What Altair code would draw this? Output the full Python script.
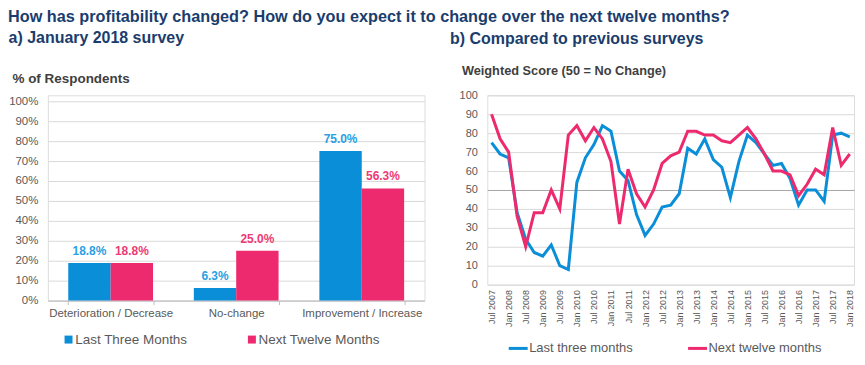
import altair as alt
import pandas as pd

FONT = "Liberation Sans"
NAVY = "#1A3D6D"
BLUE = "#0A8ED8"
PINK = "#EE2A6E"
LBLUE = "#2AA0E2"
LPINK = "#EE3A75"
GRAY_TXT = "#595959"

main_title = "How has profitability changed? How do you expect it to change over the next twelve months?"
left_title = "a) January 2018 survey"
right_title = "b) Compared to previous surveys"

# ---- panel a) data ----
categories = ["Deterioration / Decrease", "No-change", "Improvement / Increase"]
bar_series = ["Last Three Months", "Next Twelve Months"]
last_three = [18.8, 6.3, 75.0]
next_twelve = [18.8, 25.0, 56.3]

# ---- panel b) data ----
quarters = ["Jul 2007", "Oct 2007", "Jan 2008", "Apr 2008", "Jul 2008", "Oct 2008",
            "Jan 2009", "Apr 2009", "Jul 2009", "Oct 2009", "Jan 2010", "Apr 2010",
            "Jul 2010", "Oct 2010", "Jan 2011", "Apr 2011", "Jul 2011", "Oct 2011",
            "Jan 2012", "Apr 2012", "Jul 2012", "Oct 2012", "Jan 2013", "Apr 2013",
            "Jul 2013", "Oct 2013", "Jan 2014", "Apr 2014", "Jul 2014", "Oct 2014",
            "Jan 2015", "Apr 2015", "Jul 2015", "Oct 2015", "Jan 2016", "Apr 2016",
            "Jul 2016", "Oct 2016", "Jan 2017", "Apr 2017", "Jul 2017", "Oct 2017",
            "Jan 2018"]
tick_labels = ["Jul 2007", "Jan 2008", "Jul 2008", "Jan 2009", "Jul 2009", "Jan 2010",
               "Jul 2010", "Jan 2011", "Jul 2011", "Jan 2012", "Jul 2012", "Jan 2013",
               "Jul 2013", "Jan 2014", "Jul 2014", "Jan 2015", "Jul 2015", "Jan 2016",
               "Jul 2016", "Jan 2017", "Jul 2017", "Jan 2018"]
line_series = ["Last three months", "Next twelve months"]
last_three_months = [75, 69, 67, 38, 24, 17, 15, 21, 10, 8, 54, 67, 74, 84, 81, 60, 55, 37,
                     26, 32, 41, 42, 48, 72, 69, 77, 66, 62, 46, 65, 79, 75, 69, 63, 64, 56,
                     42, 50, 50, 44, 79, 80, 78]
next_twelve_months = [90, 77, 70, 36, 20, 38, 38, 50, 40, 79, 84, 76, 83, 77, 65, 32, 61, 48,
                      41, 50, 64, 68, 70, 81, 81, 79, 79, 76, 75, 79, 83, 77, 69, 60, 60, 58,
                      47, 53, 61, 58, 83, 63, 69]

bar_df = pd.DataFrame({
    "category": categories * 2,
    "series": [bar_series[0]] * len(categories) + [bar_series[1]] * len(categories),
    "value": last_three + next_twelve,
})

line_df = pd.DataFrame({
    "quarter": quarters * 2,
    "series": [line_series[0]] * len(quarters) + [line_series[1]] * len(quarters),
    "score": last_three_months + next_twelve_months,
})

sub_title_style = dict(anchor="start", font=FONT, fontSize=16, fontWeight="bold", color=NAVY)

# ---------------- left panel ----------------
x_bar = alt.X("category:N", sort=categories,
              scale=alt.Scale(paddingInner=0.325, paddingOuter=0.1625),
              axis=alt.Axis(title=None, labelAngle=0, labelFont=FONT, labelFontSize=11.5,
                            labelColor=GRAY_TXT, domainColor="#BFBFBF", tickColor="#BFBFBF",
                            tickSize=4, tickBand="extent", labelPadding=3, grid=False))
y_bar = alt.Y("value:Q", scale=alt.Scale(domain=[0, 103], nice=False),
              axis=alt.Axis(values=list(range(0, 101, 10)), labelExpr="datum.value + '%'",
                            labelOverlap=False, grid=True,
                            title="% of Respondents", titleAngle=0, titleX=-36, titleY=-13,
                            titleAlign="left", titleBaseline="alphabetic", titleFont=FONT,
                            titleFontSize=13.5, titleFontWeight="bold", titleColor="#404040",
                            domain=False, ticks=False, labelPadding=10, gridColor="#D9D9D9",
                            labelFont=FONT, labelFontSize=11.5, labelColor=GRAY_TXT))
x_off = alt.XOffset("series:N", sort=bar_series)

bars = alt.Chart(bar_df).mark_bar().encode(
    x=x_bar,
    y=y_bar,
    xOffset=x_off,
    color=alt.Color("series:N", scale=alt.Scale(domain=bar_series, range=[BLUE, PINK]),
                    legend=alt.Legend(title=None, orient="none", legendX=14, legendY=238,
                                      direction="horizontal", symbolType="square",
                                      symbolSize=64, symbolStrokeWidth=0, labelFont=FONT,
                                      labelFontSize=13.5, labelColor=GRAY_TXT,
                                      columnPadding=57, labelOffset=0, padding=0)),
)

bar_labels = alt.Chart(bar_df).transform_calculate(
    label="format(datum.value, '.1f') + '%'"
).mark_text(dy=-5, baseline="bottom", font=FONT, fontSize=12, fontWeight="bold").encode(
    x=x_bar,
    y=y_bar,
    xOffset=x_off,
    text="label:N",
    color=alt.condition(alt.datum.series == bar_series[0], alt.value(LBLUE), alt.value(LPINK)),
)

left = alt.layer(bars, bar_labels).properties(
    width=378, height=206,
    title=alt.TitleParams(left_title, offset=25, **sub_title_style),
)

# ---------------- right panel ----------------
right = alt.Chart(line_df).mark_line(strokeWidth=3).encode(
    x=alt.X("quarter:O", sort=quarters, scale=alt.Scale(type="point", padding=0.5),
            axis=alt.Axis(title=None, values=tick_labels, labelAngle=270, labelFont=FONT,
                          labelFontSize=9, labelColor=GRAY_TXT, ticks=False, domain=False,
                          labelPadding=5, grid=False)),
    y=alt.Y("score:Q", scale=alt.Scale(domain=[0, 100]),
            axis=alt.Axis(values=list(range(0, 101, 10)), labelOverlap=False,
                          title="Weighted Score  (50 = No Change)", titleAngle=0,
                          titleX=-26, titleY=-21, titleAlign="left",
                          titleBaseline="alphabetic", titleFont=FONT, titleFontSize=12.8,
                          titleFontWeight="bold", titleColor="#404040",
                          domain=False, ticks=False, labelPadding=10,
                          gridColor=alt.condition("datum.value === 50", alt.value("#A6A6A6"),
                                                  alt.value("#D9D9D9")),
                          labelFont=FONT, labelFontSize=11, labelColor=GRAY_TXT)),
    color=alt.Color("series:N", scale=alt.Scale(domain=line_series, range=[BLUE, PINK]),
                    legend=alt.Legend(title=None, orient="none", legendX=20, legendY=243,
                                      direction="horizontal", symbolType="stroke",
                                      symbolSize=361, symbolStrokeWidth=3, labelFont=FONT,
                                      labelFontSize=13, labelColor=GRAY_TXT,
                                      columnPadding=48, labelOffset=0, padding=0)),
    order=alt.Order("series:N"),
).properties(
    width=368, height=190,
    title=alt.TitleParams(right_title, offset=17, dx=-9, **sub_title_style),
)

chart = alt.hconcat(left, right, spacing=24).resolve_scale(color="independent").properties(
    title=alt.TitleParams(main_title, anchor="start", font=FONT, fontSize=16.3,
                          fontWeight="bold", color=NAVY, offset=5),
    padding={"left": 0, "top": 0, "right": 0, "bottom": 0},
).configure_view(stroke=None).configure(background="white")

chart.save("out.html", embed_options={"renderer": "svg", "actions": False})
